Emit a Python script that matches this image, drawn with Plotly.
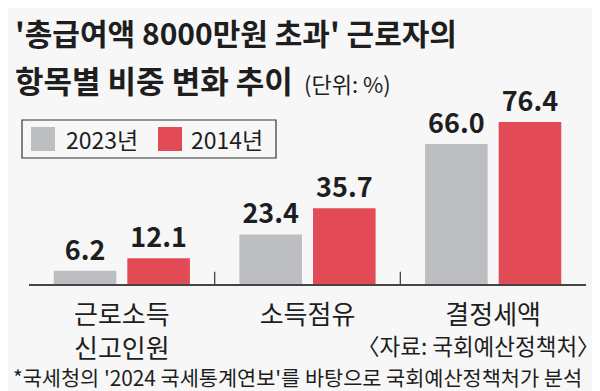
import plotly.graph_objects as go

categories = ["근로소득<br>신고인원", "소득점유", "결정세액"]
series_names = ["2023년", "2014년"]
values_2023 = [6.2, 23.4, 66.0]
values_2014 = [12.1, 35.7, 76.4]
colors = ["#bdbec2", "#e24a55"]

title_line1 = "'총급여액 8000만원 초과' 근로자의"
title_line2 = "항목별 비중 변화 추이"
unit_text = "(단위: %)"
source_text = "〈자료: 국회예산정책처〉"
footnote_text = "*국세청의 '2024 국세통계연보'를 바탕으로 국회예산정책처가 분석"

W, H = 600, 391
ML, MR, MT, MB = 21, 22, 100, 115
PW = W - ML - MR
PH = H - MT - MB
FONT = "Noto Sans CJK KR"
BG = "#f7f7f7"
TXT = "#1e1e1e"


def px(x):
    return (x - ML) / PW


def py(y):
    return (H - MB - y) / PH


fig = go.Figure()
for name, vals, col in zip(series_names, [values_2023, values_2014], colors):
    fig.add_trace(go.Bar(
        x=categories, y=vals, name=name,
        marker=dict(color=col, line=dict(width=0)),
        texttemplate="%{y:.1f}", textposition="outside",
        textfont=dict(family=FONT, size=27, color=TXT, weight="bold"),
        cliponaxis=False, showlegend=False,
    ))

shapes = []
annotations = []

# category boundary ticks
for b in [0.5, 1.5]:
    shapes.append(dict(type="line", xref="x", yref="y", x0=b, x1=b, y0=0, y1=5.8,
                       line=dict(color="#444", width=1.3)))

# legend box
shapes.append(dict(type="rect", xref="paper", yref="paper",
                   x0=px(14), x1=px(268), y0=py(150), y1=py(112),
                   line=dict(color="#333", width=1.2), fillcolor="rgba(0,0,0,0)"))
legend_sq_x = [23, 150]
legend_txt_x = [56, 181]
for name, col, sx, tx in zip(series_names, colors, legend_sq_x, legend_txt_x):
    shapes.append(dict(type="rect", xref="paper", yref="paper",
                       x0=px(sx), x1=px(sx + 24), y0=py(143), y1=py(119),
                       line=dict(width=0), fillcolor=col))
    annotations.append(dict(text=name, xref="paper", yref="paper", x=px(tx), y=py(131),
                            xanchor="left", yanchor="middle", showarrow=False,
                            font=dict(family=FONT, size=23, color=TXT)))

annotations += [
    dict(text=title_line1, xref="paper", yref="paper", x=px(5), y=py(24),
         xanchor="left", yanchor="middle", showarrow=False,
         font=dict(family=FONT, size=30, color=TXT, weight="bold")),
    dict(text=title_line2, xref="paper", yref="paper", x=px(5), y=py(71),
         xanchor="left", yanchor="middle", showarrow=False,
         font=dict(family=FONT, size=31, color=TXT, weight="bold")),
    dict(text=unit_text, xref="paper", yref="paper", x=px(294), y=py(75),
         xanchor="left", yanchor="middle", showarrow=False,
         font=dict(family=FONT, size=22, color=TXT)),
    dict(text=source_text, xref="paper", yref="paper", x=px(594), y=py(337),
         xanchor="right", yanchor="middle", showarrow=False,
         font=dict(family=FONT, size=22.5, color=TXT)),
    dict(text=footnote_text, xref="paper", yref="paper", x=px(3), y=py(369),
         xanchor="left", yanchor="middle", showarrow=False,
         font=dict(family=FONT, size=20.8, color=TXT)),
]

fig.update_layout(
    width=W, height=H,
    margin=dict(l=ML, r=MR, t=MT, b=MB),
    paper_bgcolor=BG, plot_bgcolor=BG,
    barmode="group", bargap=0.207, bargroupgap=0.15,
    showlegend=False,
    shapes=shapes, annotations=annotations,
    xaxis=dict(showline=True, linecolor="#444", linewidth=1.5, ticks="",
               range=[-0.5, 2.5], showgrid=False, zeroline=False,
               tickfont=dict(family=FONT, size=26, color=TXT), ticklabelstandoff=7),
    yaxis=dict(visible=False, range=[0, 83], showgrid=False, zeroline=False),
)

fig.write_html("out.html")
